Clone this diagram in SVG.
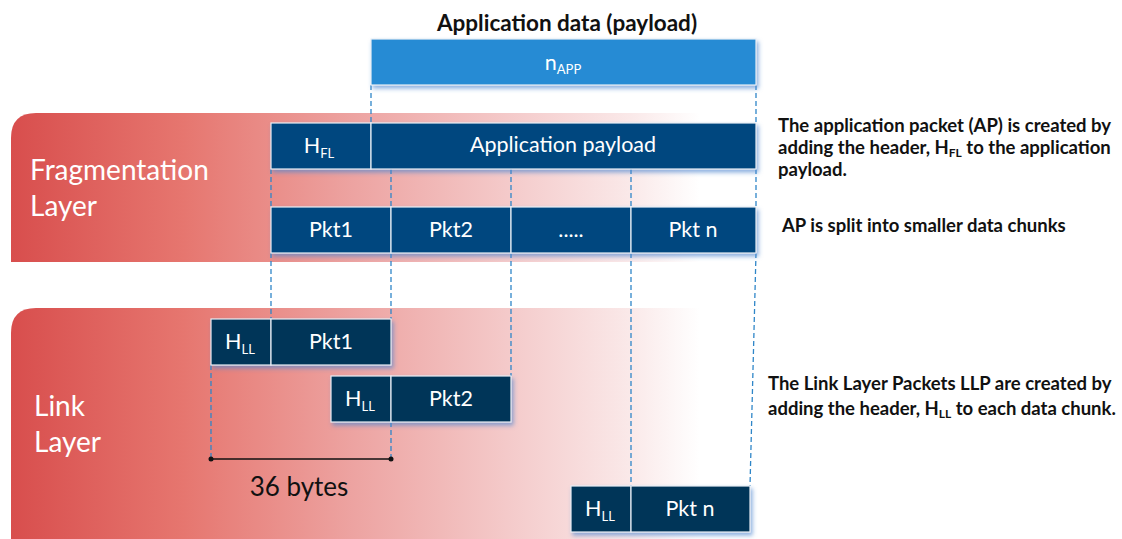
<svg xmlns="http://www.w3.org/2000/svg" width="1122" height="539" viewBox="0 0 1122 539">
<defs>
<linearGradient id="band" gradientUnits="userSpaceOnUse" x1="11" y1="0" x2="700" y2="0">
<stop offset="0" stop-color="#d84e4d"/>
<stop offset="0.25" stop-color="#e6766f"/>
<stop offset="0.5" stop-color="#eda4a2"/>
<stop offset="0.75" stop-color="#f5cfcf"/>
<stop offset="0.9" stop-color="#fae9e9"/>
<stop offset="1" stop-color="#ffffff"/>
</linearGradient>
<filter id="sh" x="-10%" y="-20%" width="130%" height="160%">
<feDropShadow dx="2" dy="3" stdDeviation="2" flood-color="#4f86cf" flood-opacity="0.65"/>
</filter>
<style>
.box{fill:#00467f;stroke:#e8eef6;stroke-width:1.2}
.lbox{fill:#003459;stroke:#e8eef6;stroke-width:1.2}
.bt{font-family:Lato,"Liberation Sans",sans-serif;font-size:21.5px;fill:#ffffff;text-anchor:middle}
.sub{font-size:13px}
.layer{font-family:Lato,"Liberation Sans",sans-serif;font-size:28px;fill:#ffffff}
.note{font-family:Lato,"Liberation Sans",sans-serif;font-size:18.5px;font-weight:bold;fill:#111111}
.dash{stroke:#2f86c8;stroke-width:1.3;stroke-dasharray:5,3;fill:none}
</style>
</defs>
<rect width="1122" height="539" fill="#ffffff"/>
<g id="fragmentation-layer">
<path d="M11,262 V138 Q11,113 36,113 H700 V262 Z" fill="url(#band)"/>
<text class="layer" x="30" y="180">Fragmentation</text>
<text class="layer" x="30" y="216">Layer</text>
</g>
<g id="link-layer">
<path d="M11,539 V333 Q11,308 36,308 H700 V539 Z" fill="url(#band)"/>
<text class="layer" x="34" y="416">Link</text>
<text class="layer" x="34" y="452">Layer</text>
</g>
<g id="connectors">
<line class="dash" x1="371" y1="85" x2="371" y2="123"/>
<line class="dash" x1="756" y1="85" x2="756" y2="123"/>
<line class="dash" x1="271" y1="169" x2="271" y2="207"/>
<line class="dash" x1="391" y1="169" x2="391" y2="207"/>
<line class="dash" x1="511" y1="169" x2="511" y2="207"/>
<line class="dash" x1="631" y1="169" x2="631" y2="207"/>
<line class="dash" x1="756" y1="169" x2="756" y2="207"/>
<line class="dash" x1="271" y1="253" x2="271" y2="319"/>
<line class="dash" x1="391" y1="253" x2="391" y2="319"/>
<line class="dash" x1="511" y1="253" x2="511" y2="376"/>
<line class="dash" x1="631" y1="253" x2="631" y2="486"/>
<line class="dash" x1="756" y1="253" x2="750" y2="486"/>
<line class="dash" x1="211" y1="365" x2="211" y2="459"/>
<line class="dash" x1="391" y1="422" x2="391" y2="459"/>
<line x1="211" y1="459" x2="391" y2="459" stroke="#111111" stroke-width="1.5"/>
<circle cx="211" cy="459" r="2.5" fill="#111111"/>
<circle cx="391" cy="459" r="2.5" fill="#111111"/>
<text x="299" y="496" font-family="Lato,'Liberation Sans',sans-serif" font-size="26" fill="#111111" text-anchor="middle">36 bytes</text>
</g>
<g id="app-data">
<text x="567" y="31" font-family="Lato,'Liberation Sans',sans-serif" font-size="22.5" font-weight="bold" fill="#111111" text-anchor="middle">Application  data (payload)</text>
<rect x="371" y="39" width="385" height="46" fill="#258bd4" stroke="#e8eef6" stroke-width="1.2" filter="url(#sh)"/>
<text class="bt" x="563" y="70">n<tspan class="sub" dy="4">APP</tspan></text>
</g>
<g id="ap-row" filter="url(#sh)">
<rect class="box" x="271" y="123" width="100" height="46"/>
<rect class="box" x="371" y="123" width="385" height="46"/>
</g>
<g id="ap-text">
<text class="bt" x="319" y="153">H<tspan class="sub" dy="5">FL</tspan></text>
<text class="bt" x="563" y="152">Application payload</text>
</g>
<g id="fl-pkts" filter="url(#sh)">
<rect class="box" x="271" y="207" width="120" height="46"/>
<rect class="box" x="391" y="207" width="120" height="46"/>
<rect class="box" x="511" y="207" width="120" height="46"/>
<rect class="box" x="631" y="207" width="125" height="46"/>
</g>
<g id="fl-pkt-text">
<text class="bt" x="331" y="237">Pkt1</text>
<text class="bt" x="451" y="237">Pkt2</text>
<text class="bt" x="571" y="237">.....</text>
<text class="bt" x="693" y="237">Pkt n</text>
</g>
<g id="llp1">
<g filter="url(#sh)">
<rect class="lbox" x="211" y="319" width="60" height="46"/>
<rect class="lbox" x="271" y="319" width="120" height="46"/>
</g>
<text class="bt" x="240" y="349">H<tspan class="sub" dy="5">LL</tspan></text>
<text class="bt" x="331" y="349">Pkt1</text>
</g>
<g id="llp2">
<g filter="url(#sh)">
<rect class="lbox" x="331" y="376" width="60" height="46"/>
<rect class="lbox" x="391" y="376" width="120" height="46"/>
</g>
<text class="bt" x="360" y="406">H<tspan class="sub" dy="5">LL</tspan></text>
<text class="bt" x="451" y="406">Pkt2</text>
</g>
<g id="llpn">
<g filter="url(#sh)">
<rect class="lbox" x="571" y="486" width="60" height="46"/>
<rect class="lbox" x="631" y="486" width="119" height="46"/>
</g>
<text class="bt" x="600" y="516">H<tspan class="sub" dy="5">LL</tspan></text>
<text class="bt" x="690" y="516">Pkt n</text>
</g>
<g id="notes">
<text class="note" x="778" y="132">The application packet (AP) is created by</text>
<text class="note" x="778" y="154">adding the header, H<tspan font-size="12" dy="3">FL</tspan><tspan dy="-3"> to the application</tspan></text>
<text class="note" x="778" y="176">payload.</text>
<text class="note" x="782" y="232">AP is split into smaller data chunks</text>
<text class="note" x="768" y="390">The Link Layer Packets LLP are created by</text>
<text class="note" x="768" y="415">adding the header, H<tspan font-size="12" dy="3">LL</tspan><tspan dy="-3"> to each data chunk.</tspan></text>
</g>
</svg>
